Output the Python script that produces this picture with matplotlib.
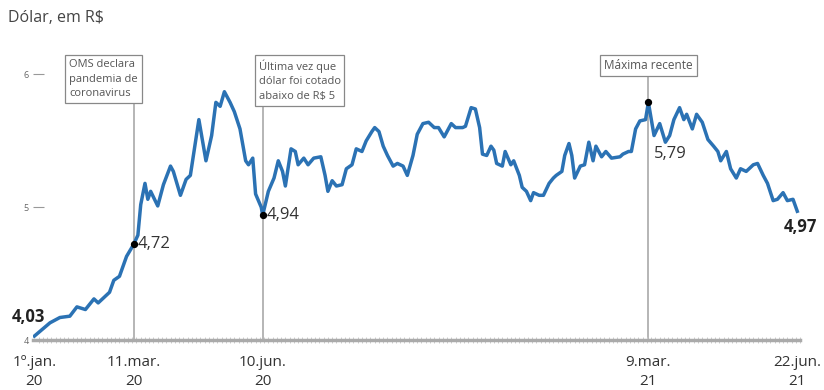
import numpy as np
import pandas as pd
import matplotlib
matplotlib.use('Agg')
import matplotlib.pyplot as plt
import matplotlib.dates as mdates
import matplotlib.transforms as mtransforms

plt.rcParams['font.family'] = ['Open Sans', 'DejaVu Sans']

# cotação do dólar (leitura aproximada do gráfico)
datas = ['2020-01-01', '2020-01-12', '2020-01-19', '2020-01-26', '2020-01-31', '2020-02-06',
         '2020-02-12', '2020-02-15', '2020-02-23', '2020-02-26', '2020-03-01', '2020-03-06',
         '2020-03-11', '2020-03-14', '2020-03-16', '2020-03-19', '2020-03-21', '2020-03-23',
         '2020-03-28', '2020-04-01', '2020-04-06', '2020-04-08', '2020-04-13', '2020-04-17',
         '2020-04-20', '2020-04-26', '2020-05-01', '2020-05-05', '2020-05-08', '2020-05-11',
         '2020-05-14', '2020-05-18', '2020-05-21', '2020-05-25', '2020-05-29', '2020-05-31',
         '2020-06-03', '2020-06-05', '2020-06-09', '2020-06-10', '2020-06-14', '2020-06-18',
         '2020-06-21', '2020-06-24', '2020-06-26', '2020-06-30', '2020-07-03', '2020-07-05',
         '2020-07-09', '2020-07-12', '2020-07-16', '2020-07-21', '2020-07-24', '2020-07-26',
         '2020-07-29', '2020-08-01', '2020-08-05', '2020-08-08', '2020-08-12', '2020-08-15',
         '2020-08-19', '2020-08-22', '2020-08-26', '2020-08-28', '2020-08-31', '2020-09-03',
         '2020-09-06', '2020-09-10', '2020-09-13', '2020-09-17', '2020-09-20', '2020-09-24',
         '2020-09-27', '2020-10-01', '2020-10-05', '2020-10-09', '2020-10-12', '2020-10-16',
         '2020-10-21', '2020-10-24', '2020-10-29', '2020-10-31', '2020-11-04', '2020-11-07',
         '2020-11-10', '2020-11-12', '2020-11-15', '2020-11-18', '2020-11-20', '2020-11-22',
         '2020-11-26', '2020-11-28', '2020-12-02', '2020-12-04', '2020-12-08', '2020-12-10',
         '2020-12-13', '2020-12-16', '2020-12-18', '2020-12-22', '2020-12-25', '2020-12-29',
         '2021-01-01', '2021-01-03', '2021-01-07', '2021-01-09', '2021-01-12', '2021-01-14',
         '2021-01-16', '2021-01-20', '2021-01-23', '2021-01-26', '2021-01-29', '2021-01-31',
         '2021-02-04', '2021-02-07', '2021-02-11', '2021-02-17', '2021-02-19', '2021-02-23',
         '2021-02-25', '2021-02-28', '2021-03-03', '2021-03-07', '2021-03-09', '2021-03-13',
         '2021-03-17', '2021-03-21', '2021-03-24', '2021-03-27', '2021-03-31', '2021-04-03',
         '2021-04-05', '2021-04-09', '2021-04-12', '2021-04-16', '2021-04-20', '2021-04-24',
         '2021-04-27', '2021-04-29', '2021-05-03', '2021-05-06', '2021-05-10', '2021-05-13',
         '2021-05-17', '2021-05-22', '2021-05-25', '2021-05-29', '2021-06-01', '2021-06-05',
         '2021-06-08', '2021-06-12', '2021-06-15', '2021-06-19', '2021-06-22']
valores = [4.03, 4.13, 4.17, 4.18, 4.25, 4.23,
           4.31, 4.28, 4.36, 4.45, 4.48, 4.63,
           4.72, 4.79, 5.02, 5.18, 5.06, 5.12,
           5.01, 5.17, 5.31, 5.27, 5.09, 5.21,
           5.24, 5.66, 5.35, 5.54, 5.79, 5.76,
           5.87, 5.79, 5.72, 5.59, 5.35, 5.32,
           5.37, 5.10, 5.00, 4.94, 5.12, 5.22,
           5.35, 5.27, 5.16, 5.44, 5.42, 5.32,
           5.37, 5.32, 5.37, 5.38, 5.24, 5.12,
           5.20, 5.16, 5.17, 5.29, 5.32, 5.44,
           5.42, 5.50, 5.57, 5.60, 5.57, 5.46,
           5.39, 5.31, 5.33, 5.31, 5.24, 5.39,
           5.55, 5.63, 5.64, 5.60, 5.60, 5.53,
           5.63, 5.60, 5.60, 5.61, 5.75, 5.74,
           5.60, 5.40, 5.39, 5.46, 5.43, 5.33,
           5.31, 5.42, 5.32, 5.35, 5.24, 5.15,
           5.12, 5.05, 5.11, 5.09, 5.09, 5.18,
           5.22, 5.24, 5.27, 5.39, 5.48, 5.39,
           5.22, 5.31, 5.32, 5.49, 5.35, 5.46,
           5.38, 5.42, 5.37, 5.38, 5.40, 5.42,
           5.42, 5.59, 5.65, 5.66, 5.79, 5.54,
           5.63, 5.49, 5.54, 5.66, 5.75, 5.66,
           5.70, 5.59, 5.70, 5.64, 5.51, 5.46,
           5.42, 5.35, 5.42, 5.29, 5.22, 5.29,
           5.27, 5.32, 5.33, 5.24, 5.18, 5.05,
           5.06, 5.11, 5.05, 5.06, 4.97]

# marcos
eventos_data = ['2020-03-11', '2020-06-10', '2021-03-09']
eventos_valor = [4.72, 4.94, 5.79]
eventos_texto = ['OMS declara\npandemia de\ncoronavirus',
                 'Última vez que\ndólar foi cotado\nabaixo de R$ 5',
                 'Máxima recente']

xticks_datas = ['2020-01-01', '2020-03-11', '2020-06-10', '2021-03-09', '2021-06-22']
xticks_rotulos = ['1º.jan.\n20', '11.mar.\n20', '10.jun.\n20', '9.mar.\n21', '22.jun.\n21']

datas = pd.to_datetime(datas)
eventos_data = pd.to_datetime(eventos_data)
xticks_datas = pd.to_datetime(xticks_datas)
eventos_num = mdates.date2num(eventos_data)

azul = '#2b72b4'
cinza = '#555555'

fig = plt.figure(figsize=(8.24, 3.9), dpi=100)
ax = fig.add_axes([0.040, 0.128, 0.931, 0.756])

ax.plot(datas, valores, color=azul, lw=2.5, solid_joinstyle='round', zorder=3)

ax.set_xlim(pd.Timestamp('2019-12-31'), pd.Timestamp('2021-06-24'))
ax.set_ylim(4, 6.22)

trans = mtransforms.blended_transform_factory(ax.transData, ax.transAxes)
box = dict(boxstyle='square,pad=0.35', fc='white', ec='#888888', lw=0.9)

# linhas verticais (vão até as caixas, que ficam por cima)
for d in eventos_num:
    ax.axvline(d, ymin=0, ymax=0.9, color='#b0b0b0', lw=1.3, zorder=1)

ax.annotate(eventos_texto[0], xy=(eventos_num[0], 0.953), xycoords=trans,
            xytext=(3, 0), textcoords='offset points', ha='right', va='top',
            multialignment='left', fontsize=8, color=cinza, linespacing=1.45,
            bbox=box, zorder=5)
ax.annotate(eventos_texto[1], xy=(eventos_num[1], 0.953), xycoords=trans,
            xytext=(-3, 0), textcoords='offset points', ha='left', va='top',
            multialignment='left', fontsize=8, color=cinza, linespacing=1.45,
            bbox=box, zorder=5)
ax.annotate(eventos_texto[2], xy=(eventos_num[2], 0.953), xycoords=trans,
            xytext=(0, 0), textcoords='offset points', ha='center', va='top',
            fontsize=8.5, color=cinza, bbox=box, zorder=5)

# pontos
ax.scatter(eventos_data, eventos_valor, s=18, color='black', zorder=4)
ax.annotate('4,72', xy=(eventos_num[0], eventos_valor[0]), xytext=(3, 0),
            textcoords='offset points', ha='left', va='center', fontsize=12, color='#333333')
ax.annotate('4,94', xy=(eventos_num[1], eventos_valor[1]), xytext=(3, 0),
            textcoords='offset points', ha='left', va='center', fontsize=12, color='#333333')
ax.annotate('5,79', xy=(eventos_num[2], eventos_valor[2]), xytext=(4, -37),
            textcoords='offset points', ha='left', va='center', fontsize=12, color='#333333')

ax.annotate('4,03', xy=(mdates.date2num(datas[0]), valores[0]), xytext=(-4, 14),
            textcoords='offset points', ha='center', va='center', fontsize=12,
            fontweight='bold', color='#222222')
ax.annotate('4,97', xy=(mdates.date2num(datas[-1]), valores[-1]), xytext=(2, -11),
            textcoords='offset points', ha='center', va='center', fontsize=12,
            fontweight='bold', color='#222222')

# eixos
for s in ['top', 'right', 'left']:
    ax.spines[s].set_visible(False)
ax.spines['bottom'].set_color('#aaaaaa')
ax.spines['bottom'].set_linewidth(2.5)

ax.set_yticks([4, 5, 6])
ax.set_yticklabels(['4', '5', '6'])
ax.tick_params(axis='y', direction='in', length=8, width=0.8, color='#999999',
               labelsize=6.5, labelcolor='#666666', pad=3)

ax.set_xticks(xticks_datas)
ax.set_xticklabels(xticks_rotulos, fontsize=11, color='#333333', linespacing=1.35)
ax.xaxis.set_minor_locator(mdates.DayLocator(interval=3))
ax.tick_params(axis='x', which='major', length=0, pad=11)
ax.tick_params(axis='x', which='minor', direction='inout', length=4, width=0.7, color='#cccccc')

fig.text(0.010, 0.953, 'Dólar, em R$', fontsize=11.5, color='#444444', ha='left', va='center')

fig.savefig('out.png', dpi=100)
